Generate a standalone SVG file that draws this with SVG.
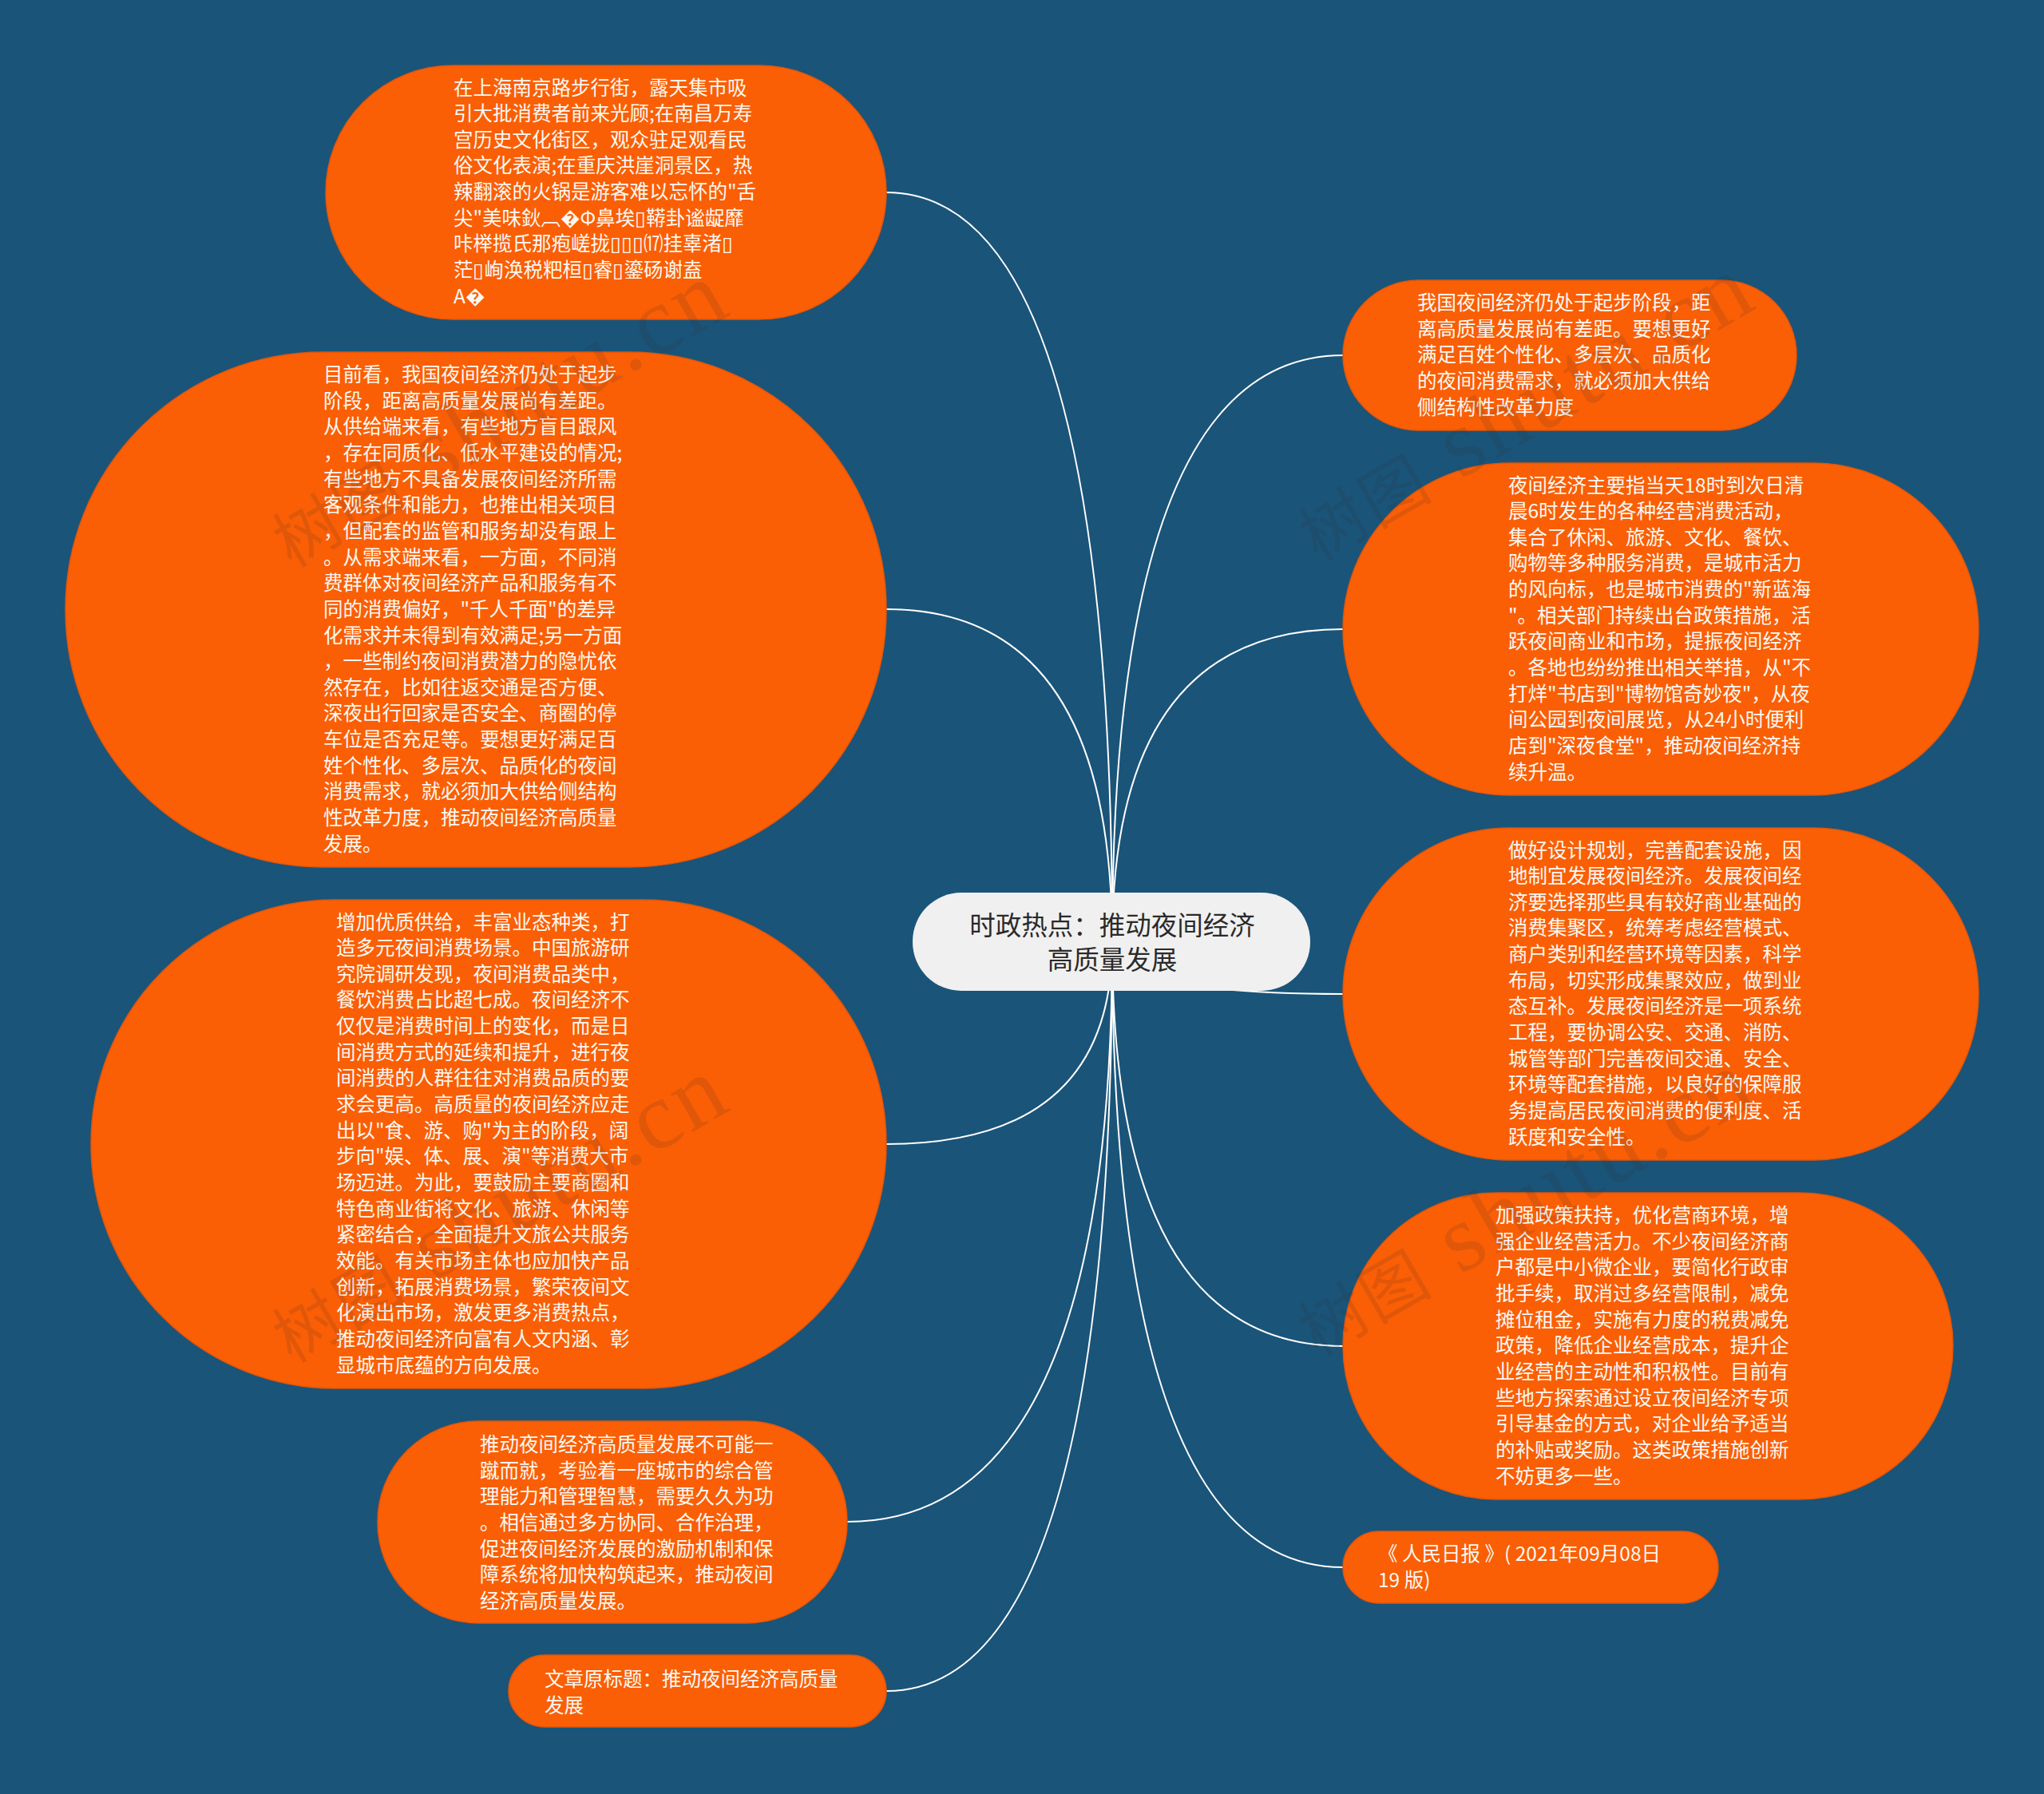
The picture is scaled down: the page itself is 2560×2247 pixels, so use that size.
<svg xmlns="http://www.w3.org/2000/svg" width="2560" height="2247" viewBox="0 0 2560 2247">
<style>
.bg{fill:#1a5479}
.node{fill:#fa5f06;stroke:#e2560a;stroke-width:1.5}
.root{fill:#f0f0f0}
.t{font-family:"Noto Sans CJK SC","Noto Sans",sans-serif;font-size:24.5px;fill:#fdf8f2}
.rt{font-family:"Noto Sans CJK SC","Noto Sans",sans-serif;font-size:32.5px;fill:#2a2a2a;text-anchor:middle}
.conn path{fill:none;stroke:#ffffff;stroke-width:2}
.wm{font-family:"Liberation Serif","Noto Sans CJK SC",serif;font-size:120px;fill:#3a2a20;opacity:0.13;letter-spacing:4px}
.wm .cj{font-family:"Noto Sans CJK SC",sans-serif;font-size:82px}
</style>
<rect class="bg" x="0" y="0" width="2560" height="2247"/>
<g id="connectors" class="conn">
<path d="M1393,1180 Q1393,241 1110,241"/>
<path d="M1393,1180 Q1393,763 1110,763"/>
<path d="M1393,1180 Q1393,1433 1110,1433"/>
<path d="M1393,1180 Q1393,1906 1061,1906"/>
<path d="M1393,1180 Q1393,2118 1110,2118"/>
<path d="M1393,1180 Q1393,445 1682,445"/>
<path d="M1393,1180 Q1393,788 1682,788"/>
<path d="M1393,1180 Q1393,1245 1682,1245"/>
<path d="M1393,1180 Q1393,1686 1682,1686"/>
<path d="M1393,1180 Q1393,1963 1682,1963"/>
</g>
<g id="root">
<rect class="root" x="1143" y="1118" width="498" height="123" rx="61"/>
<text class="rt" x="1393" y="1171">时政热点：推动夜间经济</text>
<text class="rt" x="1393" y="1214">高质量发展</text>
</g>
<g id="n1">
<rect class="node" x="408" y="82" width="702" height="318" rx="159"/>
<text class="t" x="568" y="118.5"><tspan x="568">在上海南京路步行街，露天集市吸</tspan><tspan x="568" dy="32.65">引大批消费者前来光顾;在南昌万寿</tspan><tspan x="568" dy="32.65">宫历史文化街区，观众驻足观看民</tspan><tspan x="568" dy="32.65">俗文化表演;在重庆洪崖洞景区，热</tspan><tspan x="568" dy="32.65">辣翻滚的火锅是游客难以忘怀的"舌</tspan><tspan x="568" dy="32.65">尖"美味鈥︹&#xFFFD;Φ鼻埃▯鞯卦谧龊靡</tspan><tspan x="568" dy="32.65">咔榉揽氏那疱嵯拢▯▯▯⒄挂辜渚▯</tspan><tspan x="568" dy="32.65">茫▯峋涣税粑桓▯睿▯鎏砀谢盍</tspan><tspan x="568" dy="32.65">A&#xFFFD;</tspan></text>
</g>
<g id="n2">
<rect class="node" x="82" y="441" width="1028" height="645" rx="322"/>
<text class="t" x="405" y="478"><tspan x="405">目前看，我国夜间经济仍处于起步</tspan><tspan x="405" dy="32.65">阶段，距离高质量发展尚有差距。</tspan><tspan x="405" dy="32.65">从供给端来看，有些地方盲目跟风</tspan><tspan x="405" dy="32.65">，存在同质化、低水平建设的情况;</tspan><tspan x="405" dy="32.65">有些地方不具备发展夜间经济所需</tspan><tspan x="405" dy="32.65">客观条件和能力，也推出相关项目</tspan><tspan x="405" dy="32.65">，但配套的监管和服务却没有跟上</tspan><tspan x="405" dy="32.65">。从需求端来看，一方面，不同消</tspan><tspan x="405" dy="32.65">费群体对夜间经济产品和服务有不</tspan><tspan x="405" dy="32.65">同的消费偏好，"千人千面"的差异</tspan><tspan x="405" dy="32.65">化需求并未得到有效满足;另一方面</tspan><tspan x="405" dy="32.65">，一些制约夜间消费潜力的隐忧依</tspan><tspan x="405" dy="32.65">然存在，比如往返交通是否方便、</tspan><tspan x="405" dy="32.65">深夜出行回家是否安全、商圈的停</tspan><tspan x="405" dy="32.65">车位是否充足等。要想更好满足百</tspan><tspan x="405" dy="32.65">姓个性化、多层次、品质化的夜间</tspan><tspan x="405" dy="32.65">消费需求，就必须加大供给侧结构</tspan><tspan x="405" dy="32.65">性改革力度，推动夜间经济高质量</tspan><tspan x="405" dy="32.65">发展。</tspan></text>
</g>
<g id="n3">
<rect class="node" x="114" y="1127" width="996" height="612" rx="306"/>
<text class="t" x="421" y="1163.5"><tspan x="421">增加优质供给，丰富业态种类，打</tspan><tspan x="421" dy="32.65">造多元夜间消费场景。中国旅游研</tspan><tspan x="421" dy="32.65">究院调研发现，夜间消费品类中，</tspan><tspan x="421" dy="32.65">餐饮消费占比超七成。夜间经济不</tspan><tspan x="421" dy="32.65">仅仅是消费时间上的变化，而是日</tspan><tspan x="421" dy="32.65">间消费方式的延续和提升，进行夜</tspan><tspan x="421" dy="32.65">间消费的人群往往对消费品质的要</tspan><tspan x="421" dy="32.65">求会更高。高质量的夜间经济应走</tspan><tspan x="421" dy="32.65">出以"食、游、购"为主的阶段，阔</tspan><tspan x="421" dy="32.65">步向"娱、体、展、演"等消费大市</tspan><tspan x="421" dy="32.65">场迈进。为此，要鼓励主要商圈和</tspan><tspan x="421" dy="32.65">特色商业街将文化、旅游、休闲等</tspan><tspan x="421" dy="32.65">紧密结合，全面提升文旅公共服务</tspan><tspan x="421" dy="32.65">效能。有关市场主体也应加快产品</tspan><tspan x="421" dy="32.65">创新，拓展消费场景，繁荣夜间文</tspan><tspan x="421" dy="32.65">化演出市场，激发更多消费热点，</tspan><tspan x="421" dy="32.65">推动夜间经济向富有人文内涵、彰</tspan><tspan x="421" dy="32.65">显城市底蕴的方向发展。</tspan></text>
</g>
<g id="n4">
<rect class="node" x="473" y="1780" width="588" height="253" rx="126"/>
<text class="t" x="601" y="1818"><tspan x="601">推动夜间经济高质量发展不可能一</tspan><tspan x="601" dy="32.65">蹴而就，考验着一座城市的综合管</tspan><tspan x="601" dy="32.65">理能力和管理智慧，需要久久为功</tspan><tspan x="601" dy="32.65">。相信通过多方协同、合作治理，</tspan><tspan x="601" dy="32.65">促进夜间经济发展的激励机制和保</tspan><tspan x="601" dy="32.65">障系统将加快构筑起来，推动夜间</tspan><tspan x="601" dy="32.65">经济高质量发展。</tspan></text>
</g>
<g id="n5">
<rect class="node" x="637" y="2073" width="473" height="90" rx="45"/>
<text class="t" x="682" y="2112"><tspan x="682">文章原标题：推动夜间经济高质量</tspan><tspan x="682" dy="32.65">发展</tspan></text>
</g>
<g id="r1">
<rect class="node" x="1682" y="351" width="568" height="188" rx="94"/>
<text class="t" x="1775" y="388"><tspan x="1775">我国夜间经济仍处于起步阶段，距</tspan><tspan x="1775" dy="32.65">离高质量发展尚有差距。要想更好</tspan><tspan x="1775" dy="32.65">满足百姓个性化、多层次、品质化</tspan><tspan x="1775" dy="32.65">的夜间消费需求，就必须加大供给</tspan><tspan x="1775" dy="32.65">侧结构性改革力度</tspan></text>
</g>
<g id="r2">
<rect class="node" x="1682" y="580" width="796" height="416" rx="208"/>
<text class="t" x="1889" y="616.5"><tspan x="1889">夜间经济主要指当天18时到次日清</tspan><tspan x="1889" dy="32.65">晨6时发生的各种经营消费活动，</tspan><tspan x="1889" dy="32.65">集合了休闲、旅游、文化、餐饮、</tspan><tspan x="1889" dy="32.65">购物等多种服务消费，是城市活力</tspan><tspan x="1889" dy="32.65">的风向标，也是城市消费的"新蓝海</tspan><tspan x="1889" dy="32.65">"。相关部门持续出台政策措施，活</tspan><tspan x="1889" dy="32.65">跃夜间商业和市场，提振夜间经济</tspan><tspan x="1889" dy="32.65">。各地也纷纷推出相关举措，从"不</tspan><tspan x="1889" dy="32.65">打烊"书店到"博物馆奇妙夜"，从夜</tspan><tspan x="1889" dy="32.65">间公园到夜间展览，从24小时便利</tspan><tspan x="1889" dy="32.65">店到"深夜食堂"，推动夜间经济持</tspan><tspan x="1889" dy="32.65">续升温。</tspan></text>
</g>
<g id="r3">
<rect class="node" x="1682" y="1037" width="796" height="416" rx="208"/>
<text class="t" x="1889" y="1073.5"><tspan x="1889">做好设计规划，完善配套设施，因</tspan><tspan x="1889" dy="32.65">地制宜发展夜间经济。发展夜间经</tspan><tspan x="1889" dy="32.65">济要选择那些具有较好商业基础的</tspan><tspan x="1889" dy="32.65">消费集聚区，统筹考虑经营模式、</tspan><tspan x="1889" dy="32.65">商户类别和经营环境等因素，科学</tspan><tspan x="1889" dy="32.65">布局，切实形成集聚效应，做到业</tspan><tspan x="1889" dy="32.65">态互补。发展夜间经济是一项系统</tspan><tspan x="1889" dy="32.65">工程，要协调公安、交通、消防、</tspan><tspan x="1889" dy="32.65">城管等部门完善夜间交通、安全、</tspan><tspan x="1889" dy="32.65">环境等配套措施，以良好的保障服</tspan><tspan x="1889" dy="32.65">务提高居民夜间消费的便利度、活</tspan><tspan x="1889" dy="32.65">跃度和安全性。</tspan></text>
</g>
<g id="r4">
<rect class="node" x="1682" y="1494" width="764" height="384" rx="192"/>
<text class="t" x="1873" y="1531"><tspan x="1873">加强政策扶持，优化营商环境，增</tspan><tspan x="1873" dy="32.65">强企业经营活力。不少夜间经济商</tspan><tspan x="1873" dy="32.65">户都是中小微企业，要简化行政审</tspan><tspan x="1873" dy="32.65">批手续，取消过多经营限制，减免</tspan><tspan x="1873" dy="32.65">摊位租金，实施有力度的税费减免</tspan><tspan x="1873" dy="32.65">政策，降低企业经营成本，提升企</tspan><tspan x="1873" dy="32.65">业经营的主动性和积极性。目前有</tspan><tspan x="1873" dy="32.65">些地方探索通过设立夜间经济专项</tspan><tspan x="1873" dy="32.65">引导基金的方式，对企业给予适当</tspan><tspan x="1873" dy="32.65">的补贴或奖励。这类政策措施创新</tspan><tspan x="1873" dy="32.65">不妨更多一些。</tspan></text>
</g>
<g id="r5">
<rect class="node" x="1682" y="1918" width="470" height="90" rx="45"/>
<text class="t" x="1726" y="1955"><tspan x="1726">《 人民日报 》( 2021年09月08日</tspan><tspan x="1726" dy="32.65">19 版)</tspan></text>
</g>
<g id="watermarks">
<text class="wm" transform="translate(365,712) rotate(-30)"><tspan class="cj">树图</tspan> shutu.cn</text>
<text class="wm" transform="translate(365,1708) rotate(-30)"><tspan class="cj">树图</tspan> shutu.cn</text>
<text class="wm" transform="translate(1650,704) rotate(-30)"><tspan class="cj">树图</tspan> shutu.cn</text>
<text class="wm" transform="translate(1650,1700) rotate(-30)"><tspan class="cj">树图</tspan> shutu.cn</text>
</g>
</svg>
